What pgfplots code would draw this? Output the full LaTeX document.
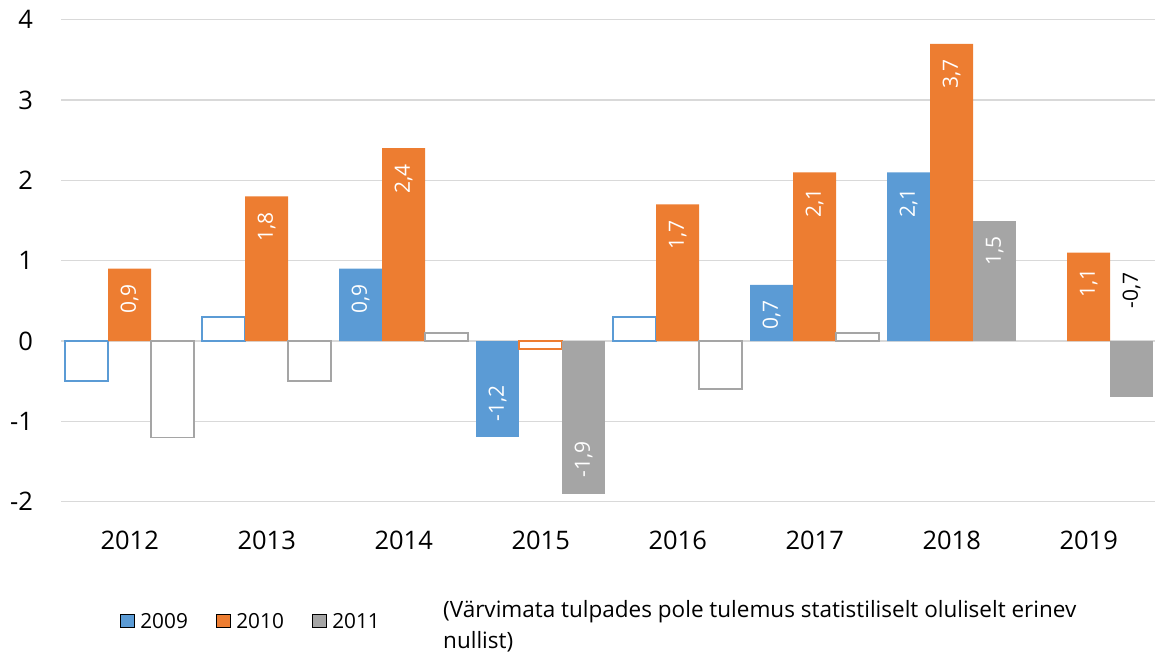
\documentclass[border=0pt]{standalone}
\usepackage{fontspec}
\setmainfont{Open Sans}
\usepackage{pgfplots}
\pgfplotsset{compat=1.18}
\definecolor{cA}{HTML}{5B9BD5}
\definecolor{cB}{HTML}{ED7D31}
\definecolor{cC}{HTML}{A5A5A5}
\definecolor{gridc}{HTML}{D9D9D9}
\newcommand{\tickfont}{\fontsize{25.5}{30}\selectfont}
\newcommand{\lblfont}{\fontsize{21}{25}\selectfont}
\newcommand{\legfont}{\fontsize{20.8}{24}\selectfont}
\newcommand{\notefont}{\fontsize{22.5}{26}\selectfont}
\pgfplotsset{
  sA/.style={ybar, bar width=43pt, bar shift=-43pt, forget plot},
  sB/.style={ybar, bar width=43pt, bar shift=0pt, forget plot},
  sC/.style={ybar, bar width=43pt, bar shift=43pt, forget plot},
  posl/.style={point meta=explicit symbolic, nodes near coords,
    every node near coord/.append style={text=white, font=\lblfont, xshift=#1, rotate=90, anchor=east, inner sep=0pt, outer xsep=16pt}},
  negl/.style={point meta=explicit symbolic, nodes near coords,
    every node near coord/.append style={text=white, font=\lblfont, xshift=#1, rotate=90, anchor=west, inner sep=0pt, outer xsep=16pt}},
  open/.style={draw=#1, fill=white, line width=1.8pt},
  full/.style={fill=#1, draw=none},
}
\begin{document}
\begin{tikzpicture}
\begin{axis}[
  at={(61.2pt,-501.7pt)}, anchor=south west,
  scale only axis, width=1096pt, height=482pt,
  xmin=-0.5, xmax=7.5, ymin=-2, ymax=4,
  xtick={0,...,7}, xticklabels={2012,2013,2014,2015,2016,2017,2018,2019},
  ytick={-2,-1,0,1,2,3,4}, yticklabels={-2,-1,0,1,2,3,4},
  axis line style={draw=none}, major tick length=0pt,
  ymajorgrids, grid style={draw=gridc, line width=1.3pt},
  tick label style={font=\tickfont, text=black},
  xticklabel style={anchor=north, inner sep=0pt, yshift=-29pt},
  yticklabel style={anchor=east, inner sep=0pt, xshift=-28pt},
  legend image code/.code={\fill[#1] (0pt,-6.75pt) rectangle (14pt,6.75pt);},
  legend columns=3,
  legend style={at={(0.0536,-0.2469)}, anchor=west, draw=none, fill=none,
    inner sep=0pt, outer sep=0pt, font=\legfont, cells={anchor=west},
    nodes={inner sep=0pt, text depth=0pt},
    /tikz/every odd column/.append style={column sep=6pt},
    /tikz/every even column/.append style={column sep=28pt}},
]
\addlegendimage{fill=cA}\addlegendentry{2009}
\addlegendimage{fill=cB}\addlegendentry{2010}
\addlegendimage{fill=cC}\addlegendentry{2011}

% 2009
\addplot[sA, open=cA] coordinates {(0,-0.5) (1,0.3) (4,0.3)};
\addplot[sA, full=cA, posl=-43pt] coordinates {(2,0.9) [0{,}9] (5,0.7) [0{,}7] (6,2.1) [2{,}1]};
\addplot[sA, full=cA, negl=-43pt] coordinates {(3,-1.2) [-1{,}2]};
% 2010
\addplot[sB, open=cB] coordinates {(3,-0.1)};
\addplot[sB, full=cB, posl=0pt] coordinates {(0,0.9) [0{,}9] (1,1.8) [1{,}8] (2,2.4) [2{,}4] (4,1.7) [1{,}7] (5,2.1) [2{,}1] (6,3.7) [3{,}7] (7,1.1) [1{,}1]};
% 2011
\addplot[sC, open=cC] coordinates {(0,-1.2) (1,-0.5) (2,0.1) (4,-0.6) (5,0.1)};
\addplot[sC, full=cC, posl=43pt] coordinates {(6,1.5) [1{,}5]};
\addplot[sC, full=cC, negl=43pt] coordinates {(3,-1.9) [-1{,}9]};
\addplot[sC, full=cC, point meta=explicit symbolic, nodes near coords,
  every node near coord/.append style={text=black, font=\lblfont, xshift=43pt, yshift=89pt, rotate=90, anchor=west, inner sep=0pt}]
  coordinates {(7,-0.7) [-0{,}7]};
\end{axis}
\node[font=\notefont, anchor=base west, inner sep=0pt] at (443pt,-617pt) {(Värvimata tulpades pole tulemus statistiliselt oluliselt erinev};
\node[font=\notefont, anchor=base west, inner sep=0pt] at (443pt,-648pt) {nullist)};
\pgfresetboundingbox
\useasboundingbox (0pt,0pt) rectangle (1155pt,-655pt);
\end{tikzpicture}
\end{document}
